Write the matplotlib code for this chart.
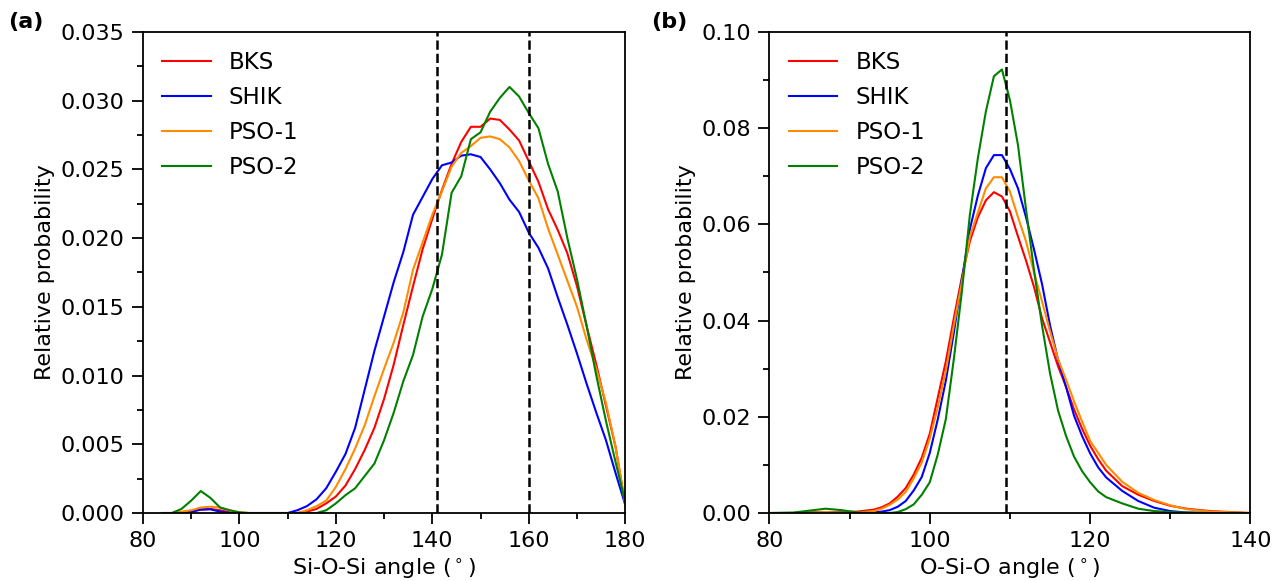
import numpy as np
import matplotlib
matplotlib.use('Agg')
import matplotlib.pyplot as plt

# Si-O-Si bond angle distribution (panel a)
sios_angle = [84, 86, 88, 90, 92, 94, 96, 98, 100, 102, 104, 106, 108, 110,
              112, 114, 116, 118, 120, 122, 124, 126, 128, 130, 132, 134, 136,
              138, 140, 142, 144, 146, 148, 150, 152, 154, 156, 158, 160, 162,
              164, 166, 168, 170, 172, 174, 176, 178, 180]
sios_bks = [0, 0, 0.00005, 0.0001, 0.00025, 0.0003, 0.0002, 0.00005, 0, 0, 0, 0, 0, 0,
            0, 0.0001, 0.0003, 0.0007, 0.0012, 0.0020, 0.0032, 0.0046, 0.0062, 0.0083,
            0.0108, 0.0137, 0.0165, 0.0192, 0.0214, 0.0235, 0.0254, 0.0270, 0.0281,
            0.0281, 0.0287, 0.0286, 0.0279, 0.0271, 0.0256, 0.0241, 0.0221, 0.0206,
            0.0189, 0.0165, 0.0136, 0.0108, 0.0078, 0.0048, 0.0006]
sios_shik = [0, 0, 0, 0.0001, 0.00025, 0.00027, 0.0001, 0, 0, 0, 0, 0, 0, 0,
             0.0002, 0.0005, 0.0010, 0.0018, 0.0030, 0.0043, 0.0062, 0.0090, 0.0118,
             0.0143, 0.0168, 0.0190, 0.0217, 0.0230, 0.0243, 0.0253, 0.0255, 0.0260,
             0.0261, 0.0259, 0.0250, 0.0240, 0.0228, 0.0219, 0.0204, 0.0193, 0.0178,
             0.0157, 0.0137, 0.0116, 0.0094, 0.0073, 0.0053, 0.0029, 0.0006]
sios_pso1 = [0, 0, 0.0001, 0.0002, 0.0004, 0.00046, 0.0004, 0.0002, 0.00005, 0, 0, 0, 0, 0,
             0, 0.0002, 0.0005, 0.0009, 0.0019, 0.0032, 0.0047, 0.0064, 0.0085, 0.0105,
             0.0124, 0.0146, 0.0177, 0.0197, 0.0217, 0.0234, 0.0252, 0.0262, 0.0267,
             0.0273, 0.0274, 0.0272, 0.0266, 0.0256, 0.0242, 0.0229, 0.0207, 0.0188,
             0.0169, 0.0150, 0.0126, 0.0105, 0.0080, 0.0048, 0.0006]
sios_pso2 = [0, 0, 0.0003, 0.0009, 0.0016, 0.0011, 0.0004, 0.0002, 0.00005, 0, 0, 0, 0, 0,
             0, 0, 0, 0.0002, 0.0007, 0.0013, 0.0018, 0.0027, 0.0036, 0.0053, 0.0073,
             0.0096, 0.0115, 0.0143, 0.0163, 0.0188, 0.0233, 0.0245, 0.0272, 0.0277,
             0.0292, 0.0302, 0.0310, 0.0303, 0.0291, 0.0280, 0.0254, 0.0234, 0.0200,
             0.0170, 0.0136, 0.0100, 0.0067, 0.0037, 0.0008]

# O-Si-O bond angle distribution (panel b)
osio_angle = [80, 83, 85, 87, 89, 91, 93, 94, 95, 96, 97, 98, 99, 100, 101, 102,
              103, 104, 105, 106, 107, 108, 109, 110, 111, 112, 113, 114, 115, 116,
              117, 118, 119, 120, 121, 122, 124, 126, 128, 130, 132, 135, 140]
osio_bks = [0, 0, 0.0001, 0.0002, 0.0002, 0.0003, 0.0007, 0.0012, 0.0020, 0.0034,
            0.0052, 0.0080, 0.0115, 0.0165, 0.0240, 0.0315, 0.0405, 0.0490, 0.0565,
            0.0615, 0.0650, 0.0667, 0.0658, 0.0627, 0.0575, 0.0525, 0.0470, 0.0405,
            0.0355, 0.0305, 0.0262, 0.0215, 0.0175, 0.0140, 0.0112, 0.0088, 0.0056,
            0.0038, 0.0025, 0.0015, 0.0009, 0.0004, 0]
osio_shik = [0, 0, 0.0001, 0.0002, 0.0001, 0, 0.0001, 0.0003, 0.0006, 0.0013,
             0.0025, 0.0047, 0.0075, 0.0125, 0.0195, 0.0275, 0.0375, 0.0485, 0.0590,
             0.0660, 0.0717, 0.0744, 0.0744, 0.0715, 0.0675, 0.0615, 0.0548, 0.0476,
             0.0390, 0.0318, 0.0262, 0.0202, 0.0160, 0.0124, 0.0095, 0.0074, 0.0046,
             0.0025, 0.0011, 0.0004, 0.0001, 0, 0]
osio_pso1 = [0, 0, 0.0001, 0.0002, 0.0001, 0.0001, 0.0004, 0.0009, 0.0017, 0.0028,
             0.0044, 0.0072, 0.0105, 0.0155, 0.0220, 0.0295, 0.0390, 0.0480, 0.0575,
             0.0625, 0.0675, 0.0698, 0.0698, 0.0668, 0.0615, 0.0565, 0.0500, 0.0440,
             0.0378, 0.0320, 0.0277, 0.0232, 0.0190, 0.0150, 0.0125, 0.0100, 0.0065,
             0.0042, 0.0027, 0.0016, 0.0008, 0.0003, 0]
osio_pso2 = [0, 0.0001, 0.0005, 0.0009, 0.0006, 0.0001, 0, 0, 0, 0.0002,
             0.0008, 0.0018, 0.0038, 0.0064, 0.0122, 0.0195, 0.0320, 0.0460, 0.0620,
             0.0738, 0.0835, 0.0908, 0.0922, 0.0858, 0.0765, 0.0632, 0.0505, 0.0390,
             0.0290, 0.0213, 0.0160, 0.0117, 0.0087, 0.0064, 0.0045, 0.0033, 0.0020,
             0.0009, 0.0004, 0.0002, 0.0001, 0, 0]

labels = ['BKS', 'SHIK', 'PSO-1', 'PSO-2']
colors = ['red', 'blue', 'darkorange', 'green']

plt.rcParams['font.family'] = 'DejaVu Sans'
plt.rcParams['font.size'] = 16

fig = plt.figure(figsize=(12.76, 5.81), dpi=100)
ax1 = fig.add_axes([0.112, 0.117, 0.378, 0.828])
ax2 = fig.add_axes([0.603, 0.117, 0.377, 0.828])


def style_axes(ax):
    for s in ax.spines.values():
        s.set_linewidth(1.3)
    ax.tick_params(which='major', direction='out', length=8, width=1.3,
                   labelsize=16, pad=5)
    ax.tick_params(which='minor', direction='out', length=4, width=1.3)


def add_legend(ax):
    ax.legend(loc='upper left', frameon=False, fontsize=16.5,
              labelspacing=0.52, handlelength=2.1, handletextpad=0.8,
              borderaxespad=0.45)


# panel (a)
for y, lab, c in zip([sios_bks, sios_shik, sios_pso1, sios_pso2], labels, colors):
    ax1.plot(sios_angle, y, color=c, lw=1.5, label=lab)
ax1.axvline(141, color='k', ls='--', lw=1.8)
ax1.axvline(160, color='k', ls='--', lw=1.8)
ax1.set_xlim(80, 180)
ax1.set_ylim(0, 0.035)
ax1.set_xticks(np.arange(80, 181, 20))
ax1.set_xticks(np.arange(80, 181, 10), minor=True)
ax1.set_yticks(np.arange(0, 0.0351, 0.005))
ax1.set_yticks(np.arange(0, 0.0351, 0.0025), minor=True)
ax1.set_yticklabels(['%.3f' % v for v in np.arange(0, 0.0351, 0.005)])
ax1.set_xlabel(r'Si-O-Si angle ($^\circ$)')
ax1.set_ylabel('Relative probability')
add_legend(ax1)
style_axes(ax1)

# panel (b)
for y, lab, c in zip([osio_bks, osio_shik, osio_pso1, osio_pso2], labels, colors):
    ax2.plot(osio_angle, y, color=c, lw=1.5, label=lab)
ax2.axvline(109.47, color='k', ls='--', lw=1.8)
ax2.set_xlim(80, 140)
ax2.set_ylim(0, 0.10)
ax2.set_xticks(np.arange(80, 141, 20))
ax2.set_xticks(np.arange(80, 141, 10), minor=True)
ax2.set_yticks(np.arange(0, 0.101, 0.02))
ax2.set_yticks(np.arange(0, 0.101, 0.01), minor=True)
ax2.set_yticklabels(['%.2f' % v for v in np.arange(0, 0.101, 0.02)])
ax2.set_xlabel(r'O-Si-O angle ($^\circ$)')
ax2.set_ylabel('Relative probability')
add_legend(ax2)
style_axes(ax2)

fig.text(0.006, 0.962, '(a)', fontsize=16, fontweight='bold', va='center')
fig.text(0.510, 0.962, '(b)', fontsize=16, fontweight='bold', va='center')

fig.savefig('out.png', dpi=100)
